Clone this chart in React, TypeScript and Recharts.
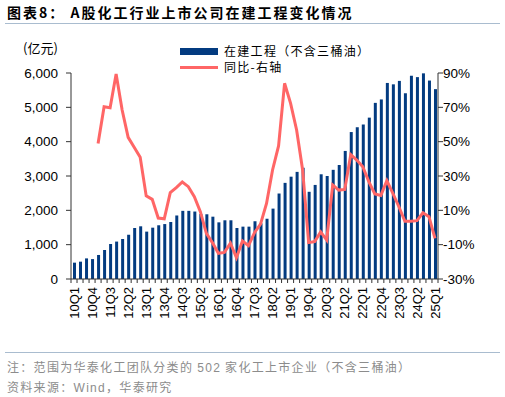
import { ComposedChart, Bar, Line, XAxis, YAxis } from "recharts";

const quarters = [
    "10Q1", "10Q2", "10Q3", "10Q4", "11Q1", "11Q2", "11Q3", "11Q4",
    "12Q1", "12Q2", "12Q3", "12Q4", "13Q1", "13Q2", "13Q3", "13Q4",
    "14Q1", "14Q2", "14Q3", "14Q4", "15Q1", "15Q2", "15Q3", "15Q4",
    "16Q1", "16Q2", "16Q3", "16Q4", "17Q1", "17Q2", "17Q3", "17Q4",
    "18Q1", "18Q2", "18Q3", "18Q4", "19Q1", "19Q2", "19Q3", "19Q4",
    "20Q1", "20Q2", "20Q3", "20Q4", "21Q1", "21Q2", "21Q3", "21Q4",
    "22Q1", "22Q2", "22Q3", "22Q4", "23Q1", "23Q2", "23Q3", "23Q4",
    "24Q1", "24Q2", "24Q3", "24Q4", "25Q1",
];

// 在建工程（亿元）
const cip = [
    476, 505, 600, 580, 700, 845, 1020, 1090, 1165, 1290,
    1485, 1535, 1380, 1495, 1565, 1600, 1660, 1850, 1985, 1985,
    1965, 1895, 1885, 1815, 1650, 1710, 1710, 1485, 1525, 1525,
    1680, 1620, 1755, 2050, 2490, 2800, 2980, 3120, 3240, 2540,
    2740, 3050, 3000, 3180, 3320, 3730, 4280, 4420, 4500, 4700,
    5130, 5230, 5710, 5670, 5770, 5410, 5920, 5880, 5990, 5780, 5530,
];

// 同比（%）
const yoy = [
    null, null, null, null, 49, 70.4, 69.8, 89.4, 68.4, 52.5,
    46.7, 40.9, 18.4, 16.4, 5.5, 5.1, 20.3, 23.2, 26.5, 23.8,
    18, 9.2, -3.4, -8.8, -15, -14.5, -9.2, -17.6, -7.9, -10.6,
    -3, 2, 14, 33.5, 47.5, 84, 72.3, 56.8, 33.5, -8.8,
    -8.2, -2.6, -7.3, 24.8, 21.8, 22.2, 42.4, 39.3, 35.4, 26.7,
    19.5, 18.7, 27.3, 19.9, 12.1, 3.6, 3.6, 4, 8.6, 6.3, -6.3,
];

const leftTicks = [0, 1000, 2000, 3000, 4000, 5000, 6000];
const rightTicks = [-30, -10, 10, 30, 50, 70, 90];

const data = quarters.map((q, i) => ({ q, v: cip[i], yoy: yoy[i] }));

const NAVY = "#033b80";
const RED = "#ff6666";
const RULE = "#a9bccf";
const FONT = '"Liberation Sans", Arial, "Noto Sans CJK SC", sans-serif';
const CJK = '"Noto Sans CJK SC", "Liberation Sans", sans-serif';
const BAND = 367 / 61;

function QuarterTick(props: any) {
    const { x, y, payload, index } = props;
    const axisY = y - 8;
    const last = index === quarters.length - 1;
    return (
        <g>
            <line x1={x - BAND / 2} x2={x - BAND / 2} y1={axisY} y2={axisY + 4} stroke="#333" />
            {last ? <line x1={x + BAND / 2} x2={x + BAND / 2} y1={axisY} y2={axisY + 4} stroke="#333" /> : null}
            {index % 3 === 0 ? (
                <text
                    x={x}
                    y={y}
                    dy="0.36em"
                    textAnchor="end"
                    transform={`rotate(-90, ${x}, ${y})`}
                    fill="#000"
                    fontSize={13}
                    fontFamily={FONT}
                >
                    {payload.value}
                </text>
            ) : null}
        </g>
    );
}

export default function App() {
    return (
        <div style={{ position: "absolute", left: 0, top: 0, width: 505, height: 397, background: "#fff", fontFamily: FONT }}>
            <div style={{ position: "absolute", left: 7, top: 3, fontSize: 14, fontWeight: "bold", fontFamily: CJK, letterSpacing: 2, lineHeight: "18px", whiteSpace: "nowrap" }}>
                图表8：&nbsp;A股化工行业上市公司在建工程变化情况
            </div>
            <div style={{ position: "absolute", left: 5, top: 23, width: 495, height: 1, background: RULE }} />

            <div style={{ position: "absolute", left: 23, top: 40, fontSize: 13, fontFamily: CJK, lineHeight: "16px" }}>(亿元)</div>

            <div style={{ position: "absolute", left: 180, top: 48, width: 38, height: 7, background: NAVY }} />
            <div style={{ position: "absolute", left: 224, top: 43, fontSize: 12, fontFamily: CJK, letterSpacing: 1.3, lineHeight: "16px", whiteSpace: "nowrap" }}>
                在建工程（不含三桶油）
            </div>
            <div style={{ position: "absolute", left: 180, top: 66, width: 38, height: 3, background: RED }} />
            <div style={{ position: "absolute", left: 224, top: 59, fontSize: 12, fontFamily: CJK, letterSpacing: 1.3, lineHeight: "16px", whiteSpace: "nowrap" }}>
                同比-右轴
            </div>

            <div style={{ position: "absolute", left: 0, top: 0 }}>
                <ComposedChart width={505} height={397} data={data} margin={{ top: 73, right: 7, bottom: 78, left: 11 }}>
                    <XAxis
                        dataKey="q"
                        interval={0}
                        height={40}
                        tickSize={4}
                        tickMargin={4}
                        tickLine={false}
                        axisLine={{ stroke: "#333" }}
                        tick={<QuarterTick />}
                    />
                    <YAxis
                        yAxisId="left"
                        width={60}
                        domain={[0, 6000]}
                        ticks={leftTicks}
                        tickSize={5}
                        tickMargin={8}
                        axisLine={{ stroke: "#333" }}
                        tickLine={{ stroke: "#333" }}
                        tick={{ fill: "#000", fontSize: 13.5, fontFamily: FONT }}
                        tickFormatter={(v: number) => v.toLocaleString("en-US")}
                    />
                    <YAxis
                        yAxisId="right"
                        orientation="right"
                        width={60}
                        domain={[-30, 90]}
                        ticks={rightTicks}
                        tickSize={5}
                        tickMargin={0}
                        axisLine={{ stroke: "#333" }}
                        tickLine={{ stroke: "#333" }}
                        tick={{ fill: "#000", fontSize: 13.5, fontFamily: FONT }}
                        tickFormatter={(v: number) => `${v}%`}
                    />
                    <Bar yAxisId="left" dataKey="v" fill={NAVY} barSize={3} isAnimationActive={false} />
                    <Line
                        yAxisId="right"
                        type="linear"
                        dataKey="yoy"
                        stroke={RED}
                        strokeWidth={3}
                        dot={false}
                        activeDot={false}
                        isAnimationActive={false}
                    />
                </ComposedChart>
            </div>

            <div style={{ position: "absolute", left: 5, top: 352, width: 495, height: 1, background: RULE }} />
            <div style={{ position: "absolute", left: 7, top: 359, fontSize: 12, color: "#8c8c8c", fontFamily: CJK, letterSpacing: 1.3, lineHeight: "16px", whiteSpace: "nowrap" }}>
                注：范围为华泰化工团队分类的 <span style={{ fontFamily: FONT }}>502</span> 家化工上市企业（不含三桶油）
            </div>
            <div style={{ position: "absolute", left: 7, top: 379, fontSize: 12, color: "#8c8c8c", fontFamily: CJK, letterSpacing: 1.3, lineHeight: "16px", whiteSpace: "nowrap" }}>
                资料来源：<span style={{ fontFamily: FONT }}>Wind</span>，华泰研究
            </div>
        </div>
    );
}
